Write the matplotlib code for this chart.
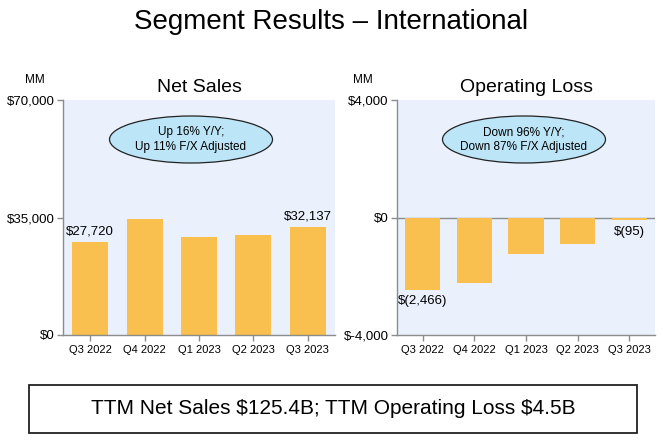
import matplotlib
matplotlib.use("Agg")
import matplotlib.pyplot as plt
from matplotlib.patches import Ellipse, Rectangle

plt.rcParams['font.family'] = ['Liberation Sans', 'DejaVu Sans']
plt.rcParams['text.parse_math'] = False  # dollar signs are literal

quarters = ["Q3 2022", "Q4 2022", "Q1 2023", "Q2 2023", "Q3 2023"]
net_sales = [27720, 34463, 29123, 29697, 32137]
op_income = [-2466, -2228, -1247, -895, -95]
sales_ticks = [0, 35000, 70000]
sales_ticklabels = ["$0", "$35,000", "$70,000"]
op_ticks = [-4000, 0, 4000]
op_ticklabels = ["$-4,000", "$0", "$4,000"]

BAR = "#F9BF4F"
BG = "#EAF1FC"
SPINE = "#8C8C8C"

W, H = 663, 446
fig = plt.figure(figsize=(W / 100, H / 100), dpi=100)


def px_axes(x0, y0, x1, y1):
    # pixel box (top-left origin) -> figure fraction axes
    return fig.add_axes([x0 / W, 1 - y1 / H, (x1 - x0) / W, (y1 - y0) / H])


def style(ax, ticks, ticklabels):
    ax.set_facecolor(BG)
    for s in ("top", "right"):
        ax.spines[s].set_visible(False)
    for s in ("left", "bottom"):
        ax.spines[s].set_color(SPINE)
        ax.spines[s].set_linewidth(1.0)
    ax.set_xlim(-0.5, len(quarters) - 0.5)
    ax.set_xticks(range(len(quarters)))
    ax.set_xticklabels(quarters, fontsize=8)
    ax.set_yticks(ticks)
    ax.set_yticklabels(ticklabels, fontsize=9.5)
    ax.tick_params(axis="both", color=SPINE, length=4, width=1, pad=2)
    ax.tick_params(axis="x", pad=3)


# Net sales
ax1 = px_axes(63, 100, 335, 335)
ax1.bar(range(len(quarters)), net_sales, width=0.66, color=BAR, zorder=2)
ax1.set_ylim(0, 70000)
style(ax1, sales_ticks, sales_ticklabels)
ax1.set_title("Net Sales", fontsize=14, pad=6)
for i in (0, len(quarters) - 1):
    ax1.annotate(f"${net_sales[i]:,}", (i, net_sales[i]), xytext=(0, 3),
                 textcoords="offset points", ha="center", va="bottom", fontsize=9.5)

# Operating loss
ax2 = px_axes(397, 100, 655, 335)
ax2.bar(range(len(quarters)), op_income, width=0.68, color=BAR, zorder=2)
ax2.set_ylim(-4000, 4000)
style(ax2, op_ticks, op_ticklabels)
ax2.axhline(0, color=SPINE, lw=1.0, zorder=1)
ax2.set_title("Operating Loss", fontsize=14, pad=6)
for i in (0, len(quarters) - 1):
    ax2.annotate(f"$({-op_income[i]:,})", (i, op_income[i]), xytext=(0, -4),
                 textcoords="offset points", ha="center", va="top", fontsize=9.5)

# "MM" unit labels
fig.text(35 / W, 1 - 80 / H, "MM", fontsize=8.5, ha="center", va="center")
fig.text(363 / W, 1 - 80 / H, "MM", fontsize=8.5, ha="center", va="center")

# callout ellipses
for cx, lines in ((191, "Up 16% Y/Y;\nUp 11% F/X Adjusted"),
                  (524, "Down 96% Y/Y;\nDown 87% F/X Adjusted")):
    fig.patches.append(Ellipse((cx / W, 1 - 139.5 / H), 163 / W, 47 / H,
                               transform=fig.transFigure, facecolor="#BDE5F8",
                               edgecolor="#222222", lw=0.9, zorder=5))
    fig.text(cx / W, 1 - 139.5 / H, lines, fontsize=8.5, ha="center", va="center",
             linespacing=1.25, zorder=6)

fig.suptitle("Segment Results \u2013 International", fontsize=20, y=1 - 22 / H, va="center")

# TTM box
fig.patches.append(Rectangle((29 / W, 1 - 433 / H), (637 - 29) / W, 48 / H,
                             transform=fig.transFigure, facecolor="white",
                             edgecolor="#222222", lw=1.3))
fig.text(333 / W, 1 - 409 / H, "TTM Net Sales $125.4B; TTM Operating Loss $4.5B",
         fontsize=15, ha="center", va="center")

fig.savefig("out.png", dpi=100)
